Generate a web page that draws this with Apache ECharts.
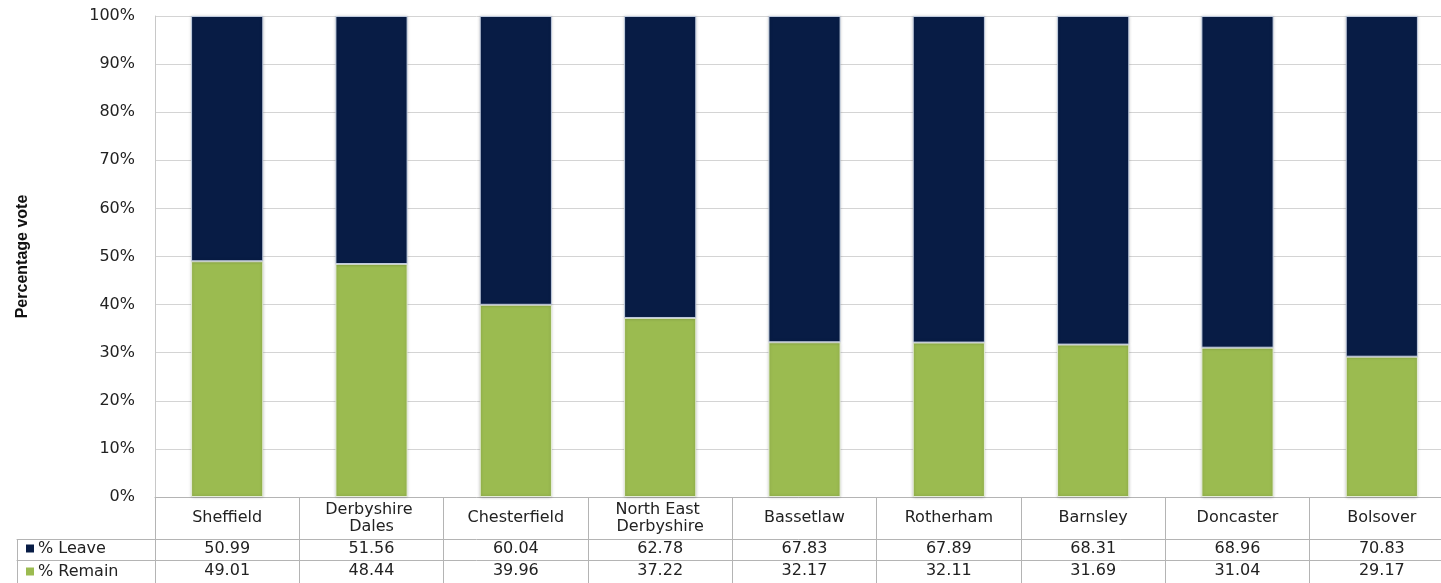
<!DOCTYPE html>
<html>
<head>
<meta charset="utf-8">
<script src="https://cdn.jsdelivr.net/npm/echarts@6/dist/echarts.min.js"></script>
<style>
html,body{margin:0;padding:0;background:#fff;}
#chart{width:1441px;height:583px;}
</style>
</head>
<body>
<div id="chart"></div>
<script>
const categories = ['Sheffield', 'Derbyshire Dales', 'Chesterfield', 'North East Derbyshire', 'Bassetlaw', 'Rotherham', 'Barnsley', 'Doncaster', 'Bolsover'];
const leave = [50.99, 51.56, 60.04, 62.78, 67.83, 67.89, 68.31, 68.96, 70.83];
const remain = [49.01, 48.44, 39.96, 37.22, 32.17, 32.11, 31.69, 31.04, 29.17];
const seriesNames = ['% Leave', '% Remain'];
const yTicks = [0, 10, 20, 30, 40, 50, 60, 70, 80, 90, 100];

const FONT = 'DejaVu Sans';
const FS = 16;
const lineCol = '#b4b4b4';
const navy = '#081c45';
const green = '#9bbb50';

const chart = echarts.init(document.getElementById('chart'), null, {renderer: 'canvas'});

const tableAxis = (offset, tickLen, fmt, margin, extra) => Object.assign({
  type: 'category',
  data: categories,
  gridIndex: 0,
  position: 'bottom',
  offset: offset,
  boundaryGap: true,
  axisLine: {show: true, onZero: false, lineStyle: {color: lineCol, width: 1}},
  axisTick: {show: true, interval: 0, length: tickLen, alignWithLabel: false, lineStyle: {color: lineCol, width: 1}},
  axisLabel: {
    show: true, interval: 0, margin: margin, verticalAlign: 'middle',
    fontFamily: FONT, fontSize: FS, color: '#222', formatter: fmt
  },
  splitLine: {show: false}
}, extra || {});

const option = {
  animation: false,
  backgroundColor: '#fff',
  grid: [
    {left: 155, top: 16, width: 1299, height: 481, containLabel: false, outerBoundsMode: 'none'},
    {left: 17, top: 16, width: 138, height: 481, containLabel: false, outerBoundsMode: 'none'}
  ],
  legend: {
    data: seriesNames,
    orient: 'vertical',
    left: 26,
    top: 540,
    padding: 0,
    itemWidth: 8,
    itemHeight: 8,
    itemGap: 6,
    icon: 'rect',
    itemStyle: {borderWidth: 0, shadowBlur: 0},
    textStyle: {fontFamily: FONT, fontSize: FS, lineHeight: 17, color: '#222', padding: [0, 0, 0, -1]},
    selectedMode: false
  },
  xAxis: [
    tableAxis(0, 42, (v) => v, 21, {
      axisLabel: {
        show: true, interval: 0, margin: 21, verticalAlign: 'middle',
        fontFamily: FONT, fontSize: FS, color: '#222', lineHeight: 17,
        width: 118, overflow: 'break'
      }
    }),
    tableAxis(42, 21, (v, i) => leave[i].toFixed(2), 10),
    tableAxis(63, 23, (v, i) => remain[i].toFixed(2), 11),
    {
      type: 'category', data: [''], gridIndex: 1, position: 'bottom', offset: 42,
      axisLine: {show: true, onZero: false, lineStyle: {color: lineCol, width: 1}},
      axisTick: {show: true, length: 21, lineStyle: {color: lineCol}},
      axisLabel: {show: false}
    },
    {
      type: 'category', data: [''], gridIndex: 1, position: 'bottom', offset: 63,
      axisLine: {show: true, onZero: false, lineStyle: {color: lineCol, width: 1}},
      axisTick: {show: true, length: 23, lineStyle: {color: lineCol}},
      axisLabel: {show: false}
    }
  ],
  yAxis: [
    {
      type: 'value',
      gridIndex: 0,
      min: yTicks[0],
      max: yTicks[yTicks.length - 1],
      interval: 10,
      name: 'Percentage vote',
      nameLocation: 'middle',
      nameGap: 124,
      nameRotate: 90,
      nameTextStyle: {fontFamily: "'Liberation Sans', Arial", fontWeight: 'bold', fontSize: 16, color: '#111'},
      axisLine: {show: true, lineStyle: {color: '#c8c8c8'}},
      axisTick: {show: false},
      axisLabel: {formatter: '{value}%', margin: 20, fontFamily: FONT, fontSize: FS, color: '#222'},
      splitLine: {show: true, lineStyle: {color: '#d4d4d4', width: 1}}
    },
    {type: 'value', gridIndex: 1, show: false, min: 0, max: 100}
  ],
  series: [
    {
      name: '% Remain',
      type: 'bar',
      stack: 'vote',
      xAxisIndex: 0, yAxisIndex: 0,
      barWidth: '50%',
      data: remain,
      itemStyle: {color: green, borderColor: 'rgba(235,242,225,0.9)', borderWidth: 1,
        shadowColor: 'rgba(0,0,0,0.25)', shadowBlur: 3}
    },
    {
      name: '% Leave',
      type: 'bar',
      stack: 'vote',
      xAxisIndex: 0, yAxisIndex: 0,
      barWidth: '50%',
      data: leave,
      itemStyle: {color: navy, borderColor: 'rgba(200,212,232,0.9)', borderWidth: 1,
        shadowColor: 'rgba(0,0,0,0.25)', shadowBlur: 3}
    }
  ]
};
chart.setOption(option);
</script>
</body>
</html>
